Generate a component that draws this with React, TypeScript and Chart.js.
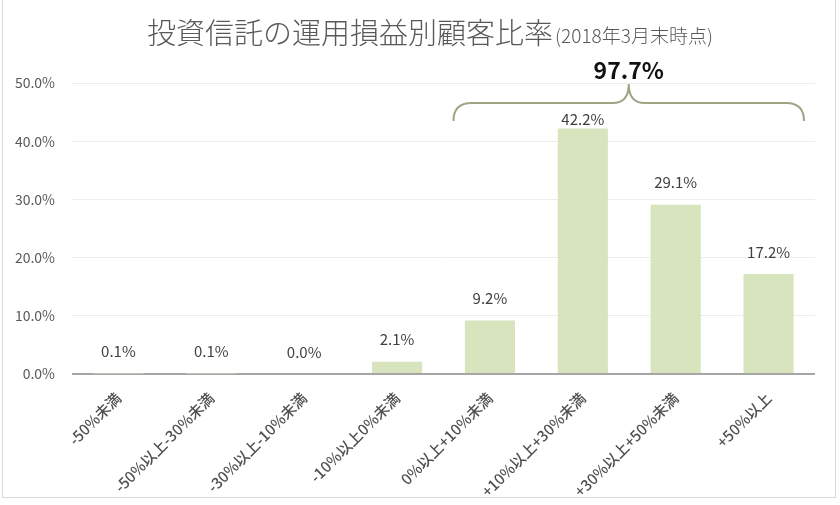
import React, { useEffect, useRef } from "react";
import { Chart, registerables } from "chart.js";

Chart.register(...registerables);

const categories = [
  "-50%未満",
  "-50%以上-30%未満",
  "-30%以上-10%未満",
  "-10%以上0%未満",
  "0%以上+10%未満",
  "+10%以上+30%未満",
  "+30%以上+50%未満",
  "+50%以上",
];
const values = [0.1, 0.1, 0.0, 2.1, 9.2, 42.2, 29.1, 17.2];
const valueLabels = ["0.1%", "0.1%", "0.0%", "2.1%", "9.2%", "42.2%", "29.1%", "17.2%"];
const bracketFrom = 4;
const bracketTo = 7;
const bracketLabel = "97.7%";
const titleMain = "投資信託の運用損益別顧客比率";
const titleSub = "(2018年3月末時点)";
const yTicks = [0, 10, 20, 30, 40, 50];

const FONT = "'Noto Sans CJK JP', 'Noto Sans', sans-serif";
const TEXT = "#595959";

const overlay = {
  id: "overlay",
  afterDatasetsDraw(chart: any) {
    const { ctx, chartArea, scales } = chart;
    const xs = scales.x;
    ctx.save();
    // title
    ctx.textBaseline = "middle";
    ctx.fillStyle = TEXT;
    const f1 = `300 29px ${FONT}`;
    const f2 = `300 19px ${FONT}`;
    ctx.font = f1;
    const w1 = ctx.measureText(titleMain).width;
    ctx.font = f2;
    const w2 = ctx.measureText(titleSub).width;
    const tx = 430 - (w1 + w2 + 2) / 2;
    ctx.textAlign = "left";
    ctx.font = f1;
    ctx.fillText(titleMain, tx, 33);
    ctx.font = f2;
    ctx.fillText(titleSub, tx + w1 + 2, 36);

    // bracket
    const half = (xs.getPixelForValue(1) - xs.getPixelForValue(0)) / 2;
    const left = xs.getPixelForValue(bracketFrom) - half + 10;
    const right = xs.getPixelForValue(bracketTo) + half - 11;
    const mid = (left + right) / 2;
    const top = chartArea.top + 1;
    const hy = top + 19;
    const endY = top + 37;
    ctx.strokeStyle = "#9ea584";
    ctx.lineWidth = 2;
    ctx.beginPath();
    ctx.moveTo(left, endY);
    ctx.quadraticCurveTo(left, hy, left + 18, hy);
    ctx.lineTo(mid - 16, hy);
    ctx.quadraticCurveTo(mid, hy, mid, top);
    ctx.quadraticCurveTo(mid, hy, mid + 16, hy);
    ctx.lineTo(right - 18, hy);
    ctx.quadraticCurveTo(right, hy, right, endY);
    ctx.stroke();

    ctx.fillStyle = "#111111";
    ctx.textAlign = "center";
    ctx.font = `bold 23px ${FONT}`;
    ctx.fillText(bracketLabel, mid, chartArea.top - 13);

    // value labels
    ctx.font = `15px ${FONT}`;
    ctx.fillStyle = "#404040";
    const meta = chart.getDatasetMeta(0);
    meta.data.forEach((bar: any, i: number) => {
      let y = bar.y - 22;
      if (i >= bracketFrom && i <= bracketTo) y = Math.max(y, hy + 16);
      ctx.fillText(valueLabels[i], bar.x, y);
    });
    ctx.restore();
  },
};

export default function App() {
  const ref = useRef<HTMLCanvasElement>(null);
  useEffect(() => {
    document.body.style.margin = "0";
    const chart = new Chart(ref.current!, {
      type: "bar",
      data: {
        labels: categories,
        datasets: [
          {
            data: values,
            backgroundColor: "#d7e4bd",
            barPercentage: 0.54,
            categoryPercentage: 1,
          },
        ],
      },
      options: {
        animation: false,
        responsive: false,
        layout: { padding: { top: 83, right: 25, bottom: 6, left: 0 } },
        plugins: { legend: { display: false }, tooltip: { enabled: false }, title: { display: false } },
        scales: {
          x: {
            grid: { display: false },
            border: { display: false },
            ticks: {
              color: "#505050",
              font: { family: FONT, size: 15, weight: "500" },
              minRotation: 45,
              maxRotation: 45,
              padding: 7,
              autoSkip: false,
            },
            afterFit: (s: any) => {
              s.height = 125;
            },
          },
          y: {
            min: 0,
            max: 50,
            afterBuildTicks: (s: any) => {
              s.ticks = yTicks.map((v) => ({ value: v }));
            },
            grid: {
              drawTicks: false,
              color: (c: any) => (c.tick && c.tick.value === 0 ? "#a6a6a6" : "#ececec"),
              lineWidth: (c: any) => (c.tick && c.tick.value === 0 ? 2 : 1),
            },
            border: { display: false },
            ticks: {
              color: TEXT,
              font: { family: FONT, size: 14 },
              padding: 17,
              callback: (v: any) => Number(v).toFixed(1) + "%",
            },
            afterFit: (s: any) => {
              s.width = 72;
            },
          },
        },
      },
      plugins: [overlay],
    });
    return () => chart.destroy();
  }, []);
  return (
    <div
      style={{
        position: "relative",
        width: 840,
        height: 505,
        boxSizing: "border-box",
        background: "#fff",
      }}
    >
      <canvas ref={ref} width={840} height={505} style={{ display: "block" }} />
      <div
        style={{
          position: "absolute",
          left: 2,
          top: 0,
          width: 834,
          height: 498,
          border: "1px solid #d9d9d9",
          borderTop: "none",
          pointerEvents: "none",
          boxSizing: "border-box",
        }}
      />
    </div>
  );
}
